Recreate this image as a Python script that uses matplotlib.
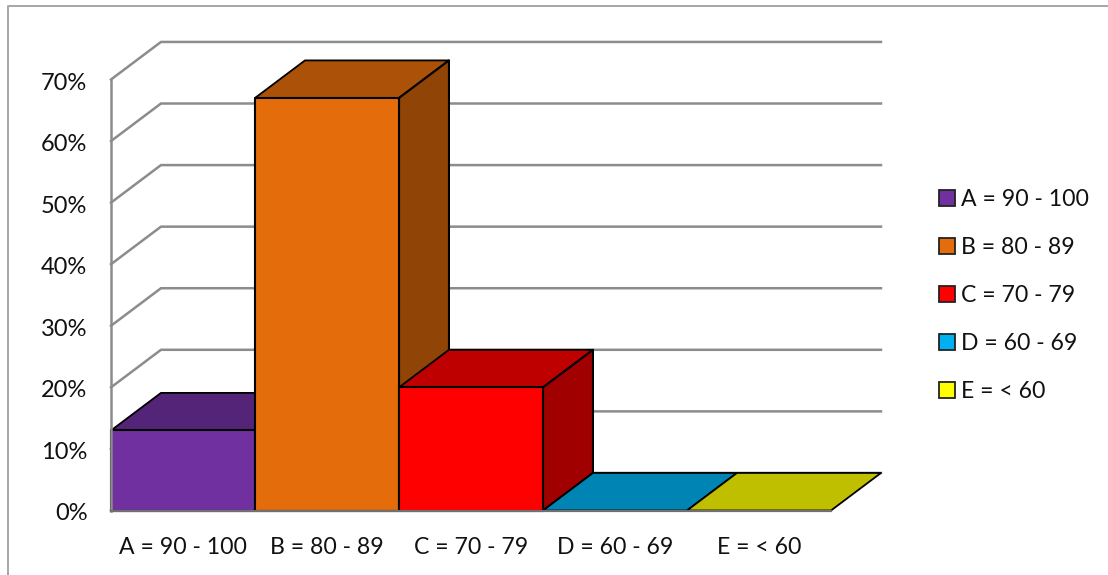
"""Grade distribution as a pseudo-3D column chart."""
import matplotlib
matplotlib.use('Agg')
import matplotlib.pyplot as plt
import matplotlib.transforms as mtrans
import numpy as np
from matplotlib.lines import Line2D
from matplotlib.patches import Patch, Polygon

W,H=1108,575
plt.rcParams['font.family']=['Lato','DejaVu Sans']

grades=['A = 90 - 100','B = 80 - 89','C = 70 - 79','D = 60 - 69','E = < 60']
shares=[13,67,20,0,0]
colors=['#7030A0','#E46C0A','#FF0000','#00B0F0','#FFFF00']
ticks=[0,10,20,30,40,50,60,70]

# depth of the box, in category widths and percent
DX,DY=.347,6.1
WALL='#8c8c8c'
TOP_SHADE,SIDE_SHADE=.75,.63


def shaded(color,k):
    return tuple(np.array(matplotlib.colors.to_rgb(color))*k)


def face(ax,pts,color,edge='black',lw=1.5,z=3):
    ax.add_patch(Polygon(pts,closed=True,fc=color,ec=edge,lw=lw,joinstyle='round',clip_on=False,zorder=z))


def column(ax,i,v,color):
    l,r=i,i+1
    face(ax,[(l,v),(l+DX,v+DY),(r+DX,v+DY),(r,v)],shaded(color,TOP_SHADE),z=3+i,lw=1.3)
    if v>0:
        face(ax,[(r,0),(r+DX,DY),(r+DX,v+DY),(r,v)],shaded(color,SIDE_SHADE),z=3+i)
        face(ax,[(l,0),(r,0),(r,v),(l,v)],color,z=3+i)


fig=plt.figure(figsize=(W/100,H/100),dpi=100)
ax=fig.add_axes([111/W,1-510.5/H,720/W,431/H])
ax.set_xlim(0,5);ax.set_ylim(0,70)
ax.patch.set_visible(False)
for s in ax.spines.values():s.set_visible(False)

# walls and gridlines behind the columns
for t in ticks:
    ax.plot([0,DX,5+DX],[t,t+DY,t+DY],color=WALL,lw=1.8,clip_on=False,zorder=1,solid_joinstyle='miter')
for i,(v,c) in enumerate(zip(shares,colors)):column(ax,i,v,c)
# value and category axes run over the column edges
ax.plot([0,0],[0,70],color=WALL,lw=1.8,clip_on=False,zorder=9)
ax.plot([0,5],[0,0],color='#707070',lw=1.6,clip_on=False,zorder=9)

ax.set_yticks(ticks,[f'{t}%' for t in ticks])
ax.set_xticks(np.arange(5)+.5,grades)
ax.tick_params(axis='y',length=0,pad=17,labelsize=17,labelcolor='#111111')
ax.tick_params(axis='x',length=0,pad=19,labelsize=16.6,labelcolor='#111111')
# percent labels sit a little under their gridline
down=mtrans.ScaledTranslation(0,-1.5/100,fig.dpi_scale_trans)
for lab in ax.get_yticklabels():lab.set_transform(lab.get_transform()+down)

handles=[Patch(fc=c,ec='#222222',lw=1.3,label=g) for g,c in zip(grades,colors)]
fig.legend(handles=handles,loc='center left',bbox_to_anchor=(939/W,1-295.5/H),frameon=False,
           fontsize=16.6,labelcolor='#111111',handlelength=.68,handleheight=.68,handletextpad=.28,
           labelspacing=1.17,borderpad=0,borderaxespad=0)

# outer frame, only its top and left edges fall inside the image
fig.add_artist(Line2D([8/W,8/W,1],[0,1-6/H,1-6/H],color='#a6a6a6',lw=1.4))
fig.savefig('out.png',dpi=100)
